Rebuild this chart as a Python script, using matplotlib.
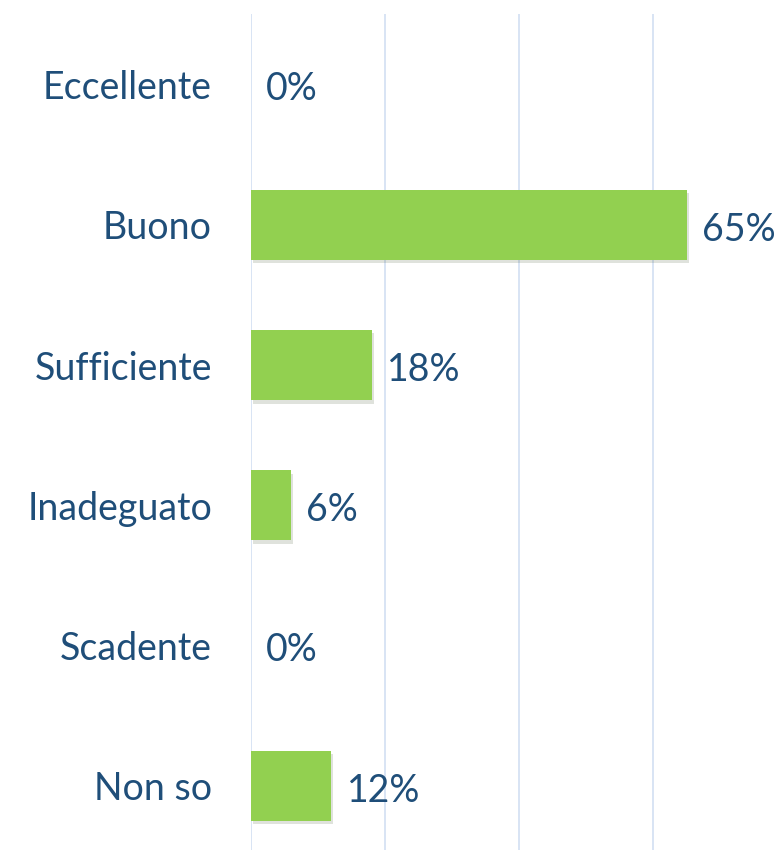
import matplotlib.pyplot as plt
import matplotlib.patheffects as pe

# dati
categorie = ["Eccellente", "Buono", "Sufficiente", "Inadeguato", "Scadente", "Non so"]
valori = [0.00, 0.65, 0.18, 0.06, 0.00, 0.12]
etichette = ["0%", "65%", "18%", "6%", "0%", "12%"]

blu = "#1F4E79"
verde = "#92D050"

plt.rcParams['font.family'] = ['Lato', 'DejaVu Sans']

fig = plt.figure(figsize=(7.77, 8.5), dpi=100)
ax = fig.add_axes([251 / 777, -0.007, 469 / 777, 0.99])

pos = list(range(len(categorie)))
bars = ax.barh(pos, valori, height=0.5, color=verde, zorder=3)
for b in bars:
    b.set_path_effects([pe.SimplePatchShadow(offset=(1.5, -2.5), alpha=0.15), pe.Normal()])

for p, v, t in zip(pos, valori, etichette):
    ax.annotate(t, (v, p), xytext=(11, -1), textcoords="offset points",
                ha="left", va="center_baseline", fontsize=27, color=blu)

ax.set_xlim(0, 0.7)
ax.set_ylim(len(categorie) - 0.5, -0.5)
ax.set_xticks([0, 0.2, 0.4, 0.6])
ax.set_xticklabels([])
ax.set_yticks(pos)
ax.set_yticklabels(categorie, fontsize=27, color=blu)
ax.tick_params(axis="both", length=0)
ax.tick_params(axis="y", pad=28)
ax.grid(axis="x", color="#D6E2F3", linewidth=1.3, zorder=0)
for s in ax.spines.values():
    s.set_visible(False)

fig.savefig("out.png", dpi=100)
